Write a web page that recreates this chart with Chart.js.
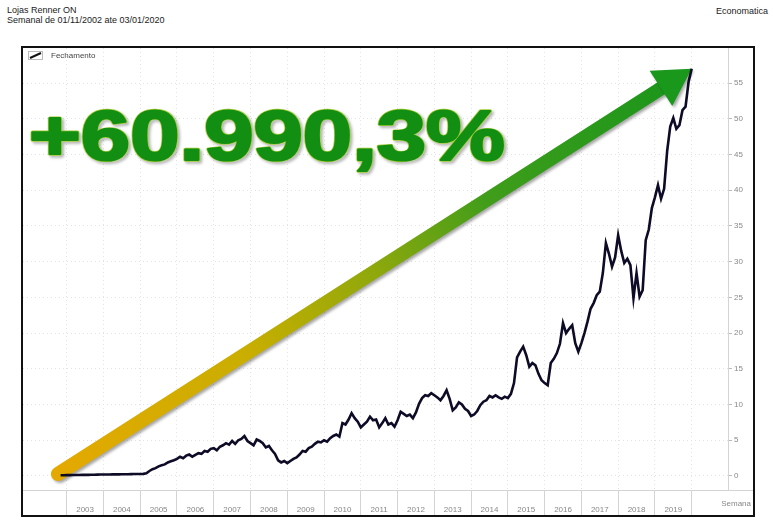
<!DOCTYPE html>
<html>
<head>
<meta charset="utf-8">
<script src="https://cdn.jsdelivr.net/npm/chart.js@4.4.0/dist/chart.umd.min.js"></script>
<style>
body{margin:0;background:#fff;width:773px;height:525px;position:relative;overflow:hidden;font-family:"Liberation Sans",Arial,sans-serif}
#titulo{position:absolute;left:7px;top:6px;font-size:9px;line-height:9.5px;color:#222}
#fonte{position:absolute;left:716px;top:6px;font-size:9px;color:#222}
#quadro{position:absolute;left:21px;top:46px;width:730px;height:467px;border:2px solid #111}
#grafico{position:absolute;left:0;top:0}
#legenda{position:absolute;left:5px;top:3px;font-size:8px;color:#444;display:flex;align-items:center}
#legenda svg{margin-right:8px}
#semana{position:absolute;right:2px;bottom:7px;font-size:8px;color:#888}
</style>
</head>
<body>
<div id="titulo">Lojas Renner ON<br>Semanal de 01/11/2002 ate 03/01/2020</div>
<div id="fonte">Economatica</div>
<div id="quadro">
  <canvas id="grafico" width="730" height="467"></canvas>
  <div id="legenda"><svg width="15" height="9"><rect x="0.5" y="0.5" width="14" height="8" fill="#fff" stroke="#bbb"/><line x1="2" y1="7" x2="13" y2="2" stroke="#111" stroke-width="2"/></svg>Fechamento</div>
  <div id="semana">Semana</div>
</div>
<script>
// serie mensal de fechamento (R$), de nov/2002 a jan/2020
let inicioSerie = 2002 + 10 / 12;
let fechamento = [
  0.10, 0.11,
  0.12, 0.12, 0.13, 0.13, 0.14, 0.15, 0.15, 0.16, 0.17, 0.18, 0.19, 0.20,
  0.20, 0.21, 0.21, 0.22, 0.22, 0.23, 0.24, 0.25, 0.25, 0.26, 0.27, 0.28,
  0.28, 0.30, 0.38, 0.70, 0.95, 1.10, 1.35, 1.50, 1.62, 1.90, 2.05, 2.20,
  2.40, 2.70, 2.50, 2.85, 3.00, 2.70, 2.95, 3.20, 3.10, 3.50, 3.40, 3.80,
  3.90, 3.60, 4.10, 4.30, 4.60, 4.40, 4.90, 4.50, 5.00, 5.20, 5.60, 4.90,
  4.60, 4.30, 5.10, 4.90, 4.60, 4.00, 4.20, 3.60, 3.10, 2.20, 1.90, 2.10,
  1.80, 2.10, 2.40, 2.60, 3.00, 3.50, 3.40, 3.90, 4.10, 4.50, 4.80, 4.70,
  5.00, 4.80, 5.30, 5.60, 5.80, 5.50, 7.40, 7.20, 7.90, 8.80, 8.10, 7.60,
  6.80, 7.20, 7.60, 8.30, 7.80, 7.90, 6.80, 7.40, 8.10, 7.20, 7.40, 6.90,
  7.80, 9.00, 8.70, 8.40, 8.60, 8.10, 8.90, 10.1, 10.9, 11.3, 11.2, 11.6,
  11.3, 11.0, 10.6, 11.2, 12.0, 10.8, 9.20, 9.60, 10.3, 10.0, 9.40, 9.10,
  8.40, 8.60, 9.10, 9.90, 10.4, 10.6, 11.2, 11.0, 11.3, 11.0, 10.8, 11.1,
  10.9, 11.5, 13.0, 16.6, 17.4, 18.1, 16.9, 15.3, 15.8, 15.5, 14.3, 13.4,
  13.0, 12.7, 15.8, 16.4, 17.2, 18.5, 21.4, 20.0, 20.6, 21.1, 18.6, 17.4,
  18.6, 20.0, 21.6, 23.4, 24.2, 25.3, 25.8, 28.4, 32.6, 31.1, 29.3, 30.6,
  33.7, 31.5, 29.8, 30.4, 29.5, 24.9, 28.4, 25.1, 26.0, 33.0, 34.5, 37.5,
  39.0, 40.7, 38.8, 40.2, 45.5, 48.9, 50.1, 48.6, 49.1, 51.2, 51.7, 55.2,
  57.0
];
let anosEixo = [2003, 2004, 2005, 2006, 2007, 2008, 2009, 2010, 2011, 2012, 2013, 2014, 2015, 2016, 2017, 2018, 2019, 2020];
let ticksY = [0, 5, 10, 15, 20, 25, 30, 35, 40, 45, 50, 55];
let destaque = "+60.990,3%";
// seta: do inicio da serie ate o ultimo fechamento
let setaInicio = [2002.76, 0.28];
let setaFim = [2020.0, 57.0];

let pontos = fechamento.map((v, i) => ({ x: inicioSerie + i / 12, y: v }));

let setaPlugin = {
  id: 'seta',
  beforeDatasetsDraw(chart) {
    let ctx = chart.ctx, xs = chart.scales.x, ys = chart.scales.y, area = chart.chartArea;
    let x0 = xs.getPixelForValue(setaInicio[0]), y0 = ys.getPixelForValue(setaInicio[1]);
    let x1 = xs.getPixelForValue(setaFim[0]), y1 = ys.getPixelForValue(setaFim[1]);
    let dx = x1 - x0, dy = y1 - y0, len = Math.hypot(dx, dy);
    let ux = dx / len, uy = dy / len, px = -uy, py = ux;
    let cabeca = 36.5, meia = 21;
    let bx = x1 - ux * cabeca, by = y1 - uy * cabeca;

    ctx.save();
    let grad = ctx.createLinearGradient(x0, y0, x1, y1);
    grad.addColorStop(0, '#e4a900');
    grad.addColorStop(0.3, '#c9ae00');
    grad.addColorStop(0.5, '#8fa80c');
    grad.addColorStop(0.68, '#3f9d1a');
    grad.addColorStop(1, '#17951b');
    ctx.shadowColor = 'rgba(0,0,0,0.35)';
    ctx.shadowOffsetX = 2;
    ctx.shadowOffsetY = 2;
    ctx.shadowBlur = 3;
    ctx.strokeStyle = grad;
    ctx.lineWidth = 14;
    ctx.lineCap = 'round';
    ctx.beginPath();
    ctx.moveTo(x0, y0);
    ctx.lineTo(bx + ux * 2, by + uy * 2);
    ctx.stroke();
    ctx.fillStyle = '#19981c';
    ctx.beginPath();
    ctx.moveTo(x1, y1);
    ctx.lineTo(bx + px * meia, by + py * meia);
    ctx.lineTo(bx - px * meia, by - py * meia);
    ctx.closePath();
    ctx.fill();
    ctx.restore();

    // texto grande
    ctx.save();
    ctx.font = 'bold 70px "Liberation Sans", Arial, sans-serif';
    let w = ctx.measureText(destaque).width;
    let esc = 476 / w;
    ctx.translate(area.left + 6, area.top + 112);
    ctx.scale(esc, 1);
    ctx.textBaseline = 'alphabetic';
    ctx.lineJoin = 'round';
    ctx.shadowColor = 'rgba(0,0,0,0.3)';
    ctx.shadowOffsetX = 2;
    ctx.shadowOffsetY = 2;
    ctx.shadowBlur = 3;
    ctx.lineWidth = 3.4;
    ctx.strokeStyle = '#a9cf3a';
    ctx.strokeText(destaque, 0, 0);
    ctx.shadowColor = 'transparent';
    ctx.lineWidth = 2.2;
    ctx.strokeStyle = '#128f12';
    ctx.strokeText(destaque, 0, 0);
    ctx.fillStyle = '#128f12';
    ctx.fillText(destaque, 0, 0);
    ctx.restore();
  },
  afterDraw(chart) {
    // eixo x continua sob a escala da direita
    let ctx = chart.ctx, area = chart.chartArea;
    ctx.save();
    ctx.strokeStyle = '#d4d4d4';
    ctx.lineWidth = 1;
    ctx.beginPath();
    ctx.moveTo(area.right, Math.round(area.bottom) + 0.5);
    ctx.lineTo(chart.width, Math.round(area.bottom) + 0.5);
    ctx.stroke();
    ctx.restore();
  }
};

let ctx = document.getElementById('grafico').getContext('2d');
new Chart(ctx, {
  type: 'line',
  data: {
    datasets: [{
      label: 'Fechamento',
      data: pontos,
      borderColor: '#0d0b26',
      borderWidth: 2.6,
      pointRadius: 0,
      tension: 0,
      fill: false
    }]
  },
  options: {
    responsive: false,
    animation: false,
    layout: { padding: 0 },
    plugins: { legend: { display: false }, tooltip: { enabled: false } },
    scales: {
      x: {
        type: 'linear',
        min: 2001.811,
        max: 2020.988,
        afterBuildTicks: s => { s.ticks = anosEixo.map(v => ({ value: v })); },
        afterFit: s => { s.height = 25; s.paddingLeft = 0; s.paddingRight = 0; },
        grid: { color: '#e3e3e3', tickLength: 25, tickColor: '#d4d4d4', tickBorderDash: [] },
        border: { display: true, color: '#d4d4d4', dash: [1, 3] },
        ticks: {
          autoSkip: false, maxRotation: 0, padding: -10, labelOffset: 18.4,
          color: '#888', font: { size: 8, family: 'Liberation Sans' },
          callback: v => v < 2020 ? String(v) : ''
        }
      },
      y: {
        type: 'linear',
        position: 'right',
        min: -1.96,
        max: 59.9,
        afterBuildTicks: s => { s.ticks = ticksY.map(v => ({ value: v })); },
        afterFit: s => { s.width = 25; s.paddingTop = 0; s.paddingBottom = 0; },
        grid: { color: '#e3e3e3', tickLength: 4, tickColor: '#bbb', tickBorderDash: [] },
        border: { display: true, color: '#d4d4d4', dash: [1, 3] },
        ticks: { padding: 2, color: '#888', font: { size: 8, family: 'Liberation Sans' } }
      }
    }
  },
  plugins: [setaPlugin]
});
</script>
</body>
</html>
